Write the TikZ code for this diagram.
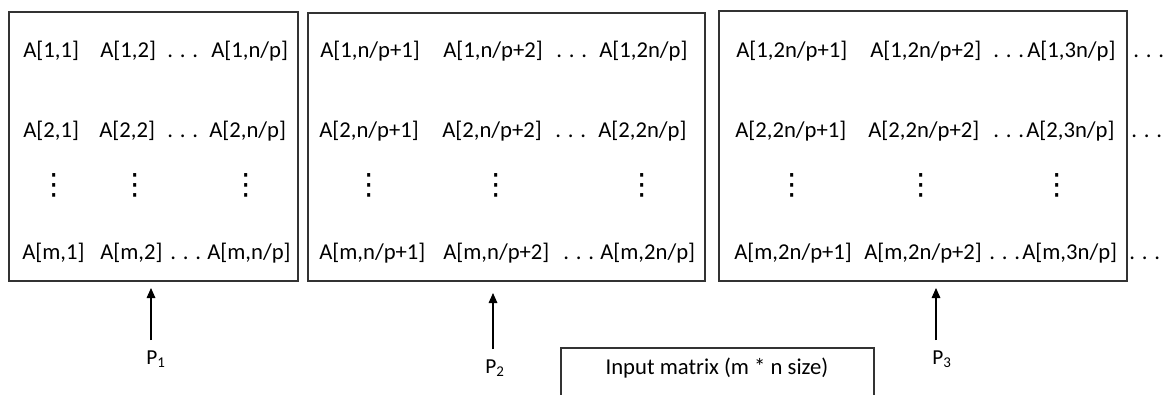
\documentclass[tikz,border=0pt]{standalone}
\usepackage{fontspec}
\setmainfont{Carlito}
\newfontfamily\dotsfont{DejaVu Sans}
\usetikzlibrary{arrows.meta,fit}

\begin{document}
\begin{tikzpicture}[
  x=0.75pt,y=-0.75pt,
  >={Triangle[length=7.5pt,width=6.5pt]},
  entry/.style={anchor=base west,inner sep=0pt,font=\fontsize{17}{20}\selectfont},
  coldots/.style={inner sep=0pt,font=\dotsfont\fontsize{22}{24}\selectfont},
  blockbox/.style={draw=black!80,line width=1.1pt,inner sep=0pt},
  proclabel/.style={anchor=base west,inner sep=0pt,font=\fontsize{16}{19}\selectfont},
  feed/.style={->,line width=0.8pt,shorten <=7.5pt}
]
 \useasboundingbox (0,0) rectangle (1167,394);
 \clip (0,0) rectangle (1167,394);

 % block of P1
 \node[blockbox,fit={(9,12) (298,281)}] (blk1) {};
 \foreach \r/\y/\xa/\xb/\xc/\xd in {1/57/23/100/167/211,2/137/23/99/167/209,m/259/22/100/170/207}{
   \node[entry] (p1a\r) at (\xa,\y) {A[\r,1]};
   \node[entry] (p1b\r) at (\xb,\y) {A[\r,2]};
   \node[entry] (p1c\r) at (\xc,\y) {. . .};
   \node[entry] (p1d\r) at (\xd,\y) {A[\r,n/p]};
 }

 % block of P2
 \node[blockbox,fit={(308,13) (705,281)}] (blk2) {};
 \foreach \r/\y/\xa/\xb/\xc/\xd in {1/57/320/443/556/599,2/137/319/442/555/598,m/259/319/443/563/600}{
   \node[entry] (p2a\r) at (\xa,\y) {A[\r,n/p+1]};
   \node[entry] (p2b\r) at (\xb,\y) {A[\r,n/p+2]};
   \node[entry] (p2c\r) at (\xc,\y) {. . .};
   \node[entry] (p2d\r) at (\xd,\y) {A[\r,2n/p]};
 }

 % block of P3, and the rest of the row
 \node[blockbox,fit={(719,11) (1127,281)}] (blk3) {};
 \foreach \r/\y/\xa/\xb/\xc/\xd/\xe in {1/57/736/870/993/1027/1133,2/137/735/868/993/1026/1131,m/259/734/864/989/1022/1129}{
   \node[entry] (p3a\r) at (\xa,\y) {A[\r,2n/p+1]};
   \node[entry] (p3b\r) at (\xb,\y) {A[\r,2n/p+2]};
   \node[entry] (p3c\r) at (\xc,\y) {. . .};
   \node[entry] (p3d\r) at (\xd,\y) {A[\r,3n/p]};
   \node[entry] (more\r) at (\xe,\y) {. . .};
 }

 % column dots
 \foreach \x [count=\i] in {54,135,246,369,496,642,792,921,1057}
   \node[coldots] (vd\i) at (\x,185) {⋮};

 % processors
 \node[proclabel] (p1) at (146,364) {P\textsubscript{1}};
 \node[proclabel] (p2) at (485,373) {P\textsubscript{2}};
 \node[proclabel] (p3) at (932,364) {P\textsubscript{3}};
 \coordinate (t1) at (151,288);
 \coordinate (t2) at (493,293);
 \coordinate (t3) at (936,288);
 \draw[feed] (t1 |- p1.north) -- (t1);
 \draw[feed] (t2 |- p2.north) -- (t2);
 \draw[feed] (t3 |- p3.north) -- (t3);

 % input matrix
 \node[blockbox,fit={(561,348) (874,420)}] (inbox) {};
 \node[entry,anchor=base] (intext) at (717,374) {Input matrix (m * n size)};
\end{tikzpicture}
\end{document}
